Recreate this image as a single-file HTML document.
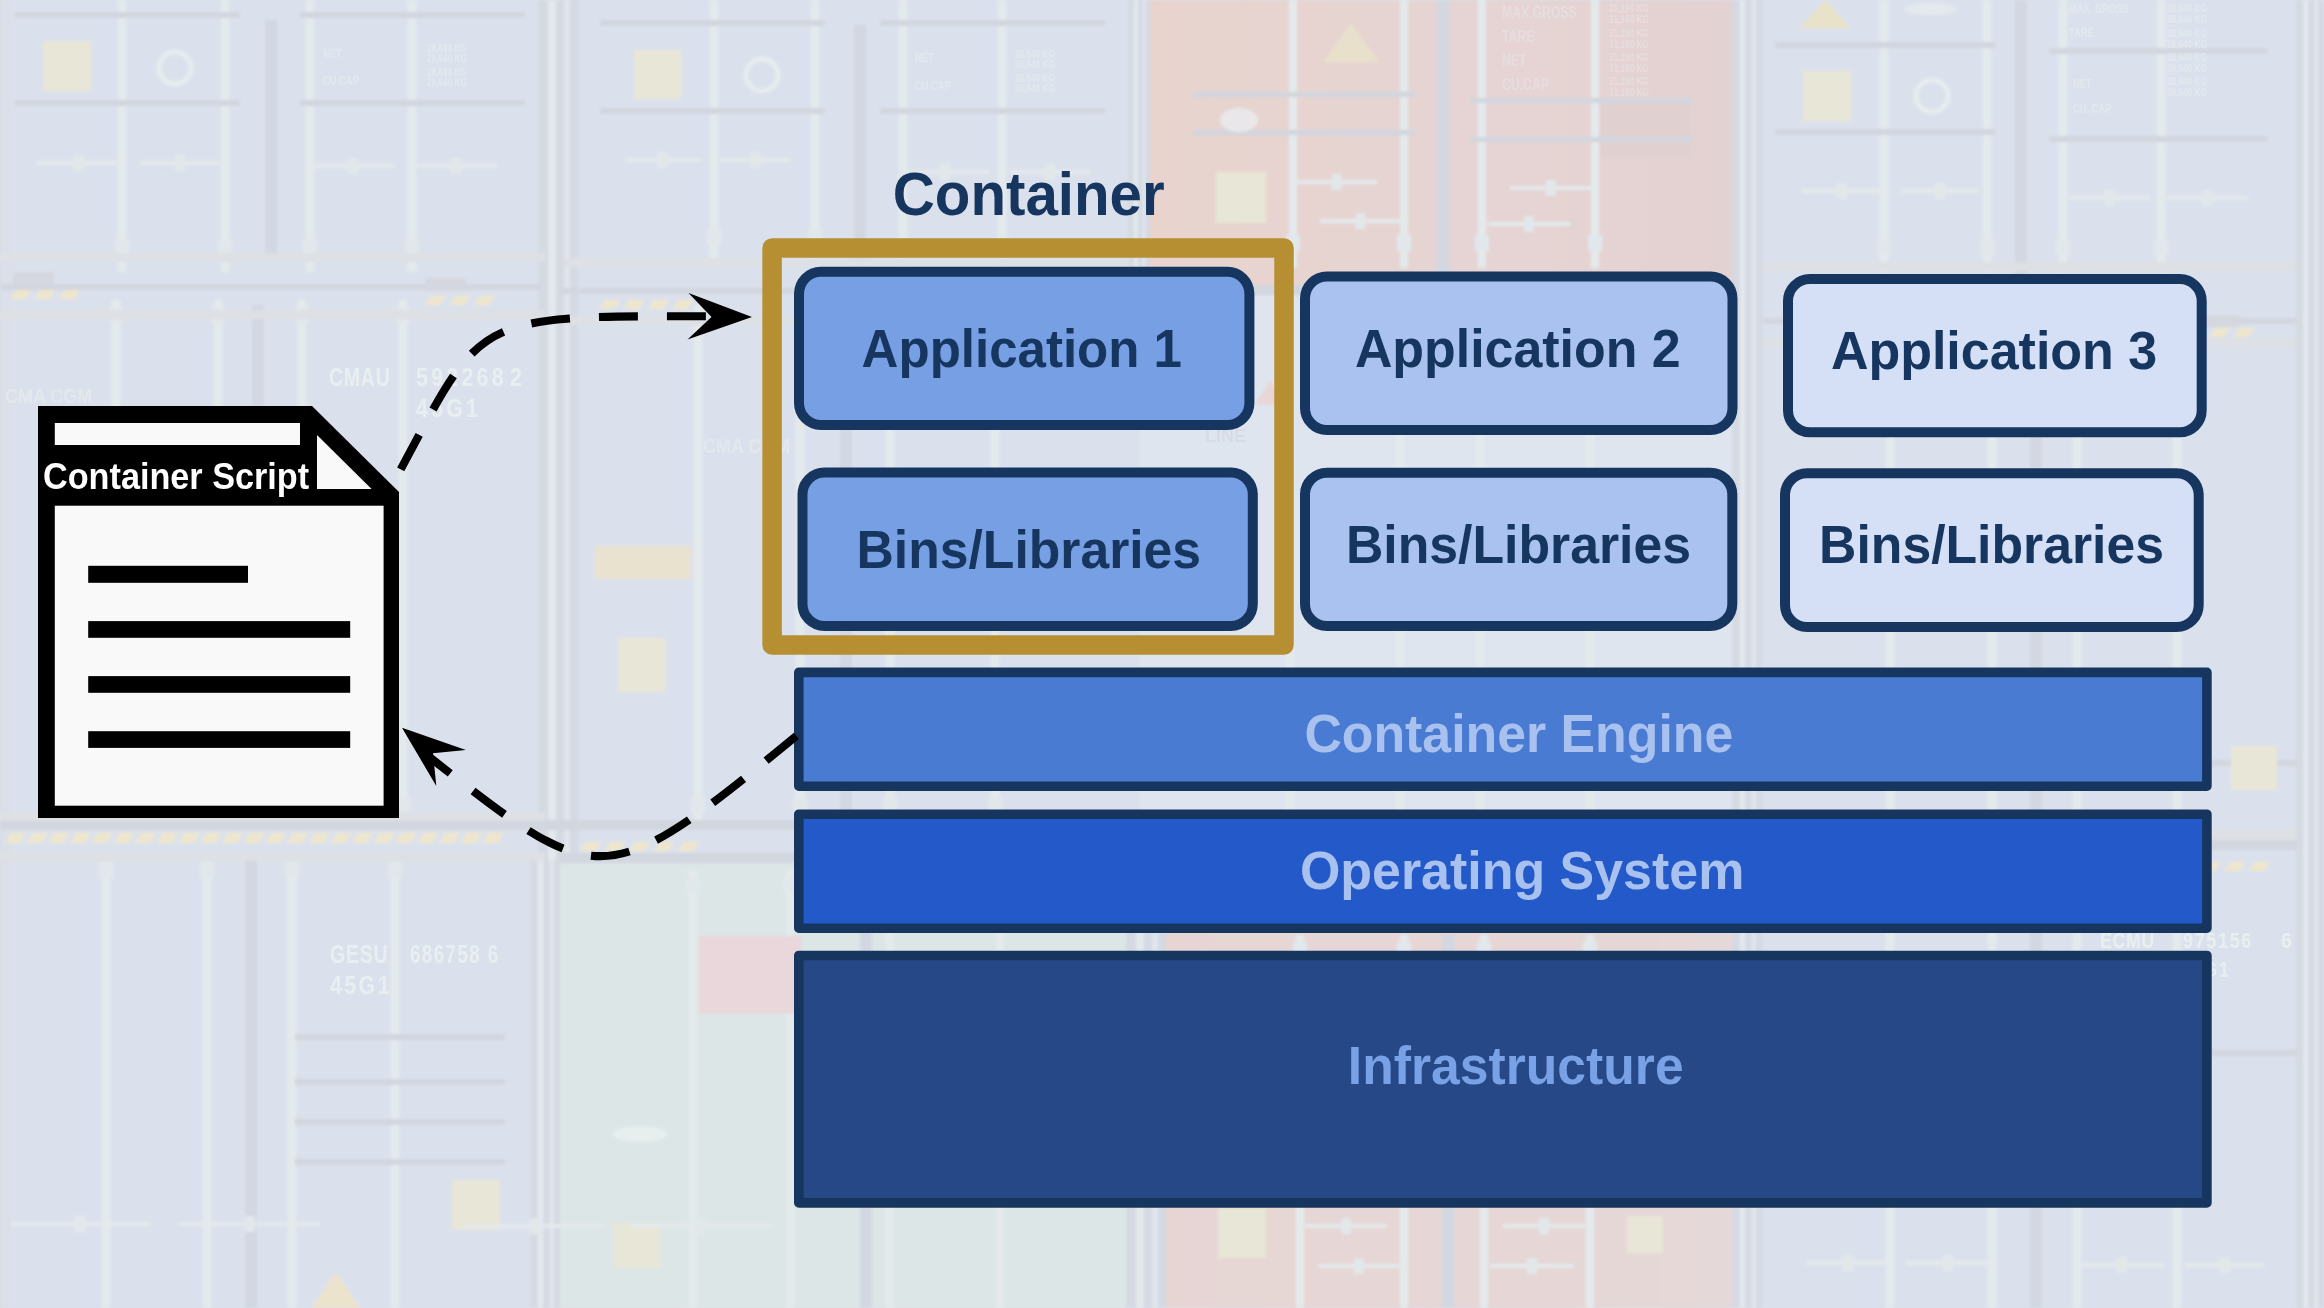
<!DOCTYPE html>
<html><head><meta charset="utf-8"><style>
html,body{margin:0;padding:0;width:2324px;height:1308px;overflow:hidden;background:#dce2ed}
svg{display:block;position:absolute;left:0;top:0}
.tx{will-change:transform}
text{font-family:"Liberation Sans",sans-serif;font-weight:bold}
</style></head><body>
<svg width="2324" height="1308" viewBox="0 0 2324 1308">
<defs><filter id="bgblur" x="0" y="0" width="1" height="1"><feGaussianBlur stdDeviation="1.5"/></filter><filter id="txblur" x="0" y="0" width="1" height="1"><feGaussianBlur stdDeviation="0.7"/></filter></defs>
<defs><linearGradient id="redg" x1="0" x2="1" y1="0" y2="0"><stop offset="0" stop-color="#e8d3cd"/><stop offset="0.5" stop-color="#e5d4d3"/><stop offset="1" stop-color="#e3d2d2"/></linearGradient><linearGradient id="redg2" x1="0" x2="1" y1="0" y2="0"><stop offset="0" stop-color="#e6d5d3"/><stop offset="1" stop-color="#e5d8d8"/></linearGradient></defs><g filter="url(#bgblur)"><rect x="0" y="0" width="2324" height="1308" fill="#dbe1ec"/>
<rect x="1150" y="0" width="584" height="292" fill="url(#redg)"/>
<rect x="1140" y="292" width="610" height="641" fill="#dfe5ee"/>
<rect x="1166" y="930" width="568" height="378" fill="url(#redg2)"/>
<rect x="560" y="862" width="568" height="446" fill="#dce6e7"/>
<rect x="1600" y="99" width="90" height="58" fill="#e0d0d0"/>
<rect x="0" y="0" width="10" height="1308" fill="#d4d9e2"/>
<rect x="2.5" y="0" width="2" height="1308" fill="#e3e8ed"/>
<rect x="6.5" y="0" width="2" height="1308" fill="#e1e6eb"/>
<rect x="538" y="0" width="40" height="860" fill="#d4d9e2"/>
<rect x="548.0" y="0" width="8.0" height="860" fill="#e3e8ed"/>
<rect x="564.0" y="0" width="6.0" height="860" fill="#e1e6eb"/>
<rect x="530" y="860" width="30" height="448" fill="#d4d9e2"/>
<rect x="537.5" y="860" width="6.0" height="448" fill="#e3e8ed"/>
<rect x="549.5" y="860" width="4.5" height="448" fill="#e1e6eb"/>
<rect x="1128" y="0" width="22" height="292" fill="#d4d9e2"/>
<rect x="1133.5" y="0" width="4.4" height="292" fill="#e3e8ed"/>
<rect x="1142.3" y="0" width="3.3" height="292" fill="#e1e6eb"/>
<rect x="1126" y="930" width="40" height="378" fill="#d4d9e2"/>
<rect x="1136.0" y="930" width="8.0" height="378" fill="#e3e8ed"/>
<rect x="1152.0" y="930" width="6.0" height="378" fill="#e1e6eb"/>
<rect x="1732" y="0" width="30" height="1308" fill="#d4d9e2"/>
<rect x="1739.5" y="0" width="6.0" height="1308" fill="#e3e8ed"/>
<rect x="1751.5" y="0" width="4.5" height="1308" fill="#e1e6eb"/>
<rect x="2296" y="0" width="28" height="1308" fill="#d4d9e2"/>
<rect x="2303.0" y="0" width="5.6000000000000005" height="1308" fill="#e3e8ed"/>
<rect x="2314.2" y="0" width="4.2" height="1308" fill="#e1e6eb"/>
<rect x="265" y="20" width="12" height="242" fill="#d2d7e1"/>
<rect x="854" y="25" width="12" height="243" fill="#d2d7e1"/>
<rect x="1437" y="0" width="12" height="290" fill="#d2d7e1"/>
<rect x="2015" y="0" width="12" height="290" fill="#d2d7e1"/>
<rect x="252" y="305" width="12" height="525" fill="#d2d7e1"/>
<rect x="840" y="305" width="12" height="525" fill="#d2d7e1"/>
<rect x="245" y="860" width="12" height="448" fill="#d2d7e1"/>
<rect x="2030" y="330" width="12" height="978" fill="#d2d7e1"/>
<rect x="1442" y="935" width="12" height="373" fill="#d2d7e1"/>
<rect x="860" y="880" width="12" height="428" fill="#d2d7e1"/>
<rect x="118" y="0" width="8" height="272" fill="#e4eaec"/>
<rect x="115" y="239" width="14" height="16" fill="#e2e7eb"/>
<rect x="221" y="0" width="8" height="272" fill="#e4eaec"/>
<rect x="218" y="239" width="14" height="16" fill="#e2e7eb"/>
<rect x="306" y="0" width="8" height="272" fill="#e4eaec"/>
<rect x="303" y="239" width="14" height="16" fill="#e2e7eb"/>
<rect x="408" y="0" width="8" height="272" fill="#e4eaec"/>
<rect x="405" y="239" width="14" height="16" fill="#e2e7eb"/>
<rect x="710" y="0" width="8" height="262" fill="#e4eaec"/>
<rect x="707" y="229" width="14" height="16" fill="#e2e7eb"/>
<rect x="811" y="0" width="8" height="262" fill="#e4eaec"/>
<rect x="808" y="229" width="14" height="16" fill="#e2e7eb"/>
<rect x="899" y="0" width="8" height="270" fill="#e4eaec"/>
<rect x="896" y="237" width="14" height="16" fill="#e2e7eb"/>
<rect x="998" y="0" width="8" height="270" fill="#e4eaec"/>
<rect x="995" y="237" width="14" height="16" fill="#e2e7eb"/>
<rect x="1289" y="0" width="8" height="268" fill="#e4eaec"/>
<rect x="1286" y="235" width="14" height="16" fill="#e2e7eb"/>
<rect x="1400" y="0" width="8" height="268" fill="#e4eaec"/>
<rect x="1397" y="235" width="14" height="16" fill="#e2e7eb"/>
<rect x="1478" y="0" width="8" height="268" fill="#e4eaec"/>
<rect x="1475" y="235" width="14" height="16" fill="#e2e7eb"/>
<rect x="1591" y="0" width="8" height="268" fill="#e4eaec"/>
<rect x="1588" y="235" width="14" height="16" fill="#e2e7eb"/>
<rect x="1880" y="0" width="8" height="272" fill="#e4eaec"/>
<rect x="1877" y="239" width="14" height="16" fill="#e2e7eb"/>
<rect x="1983" y="0" width="8" height="272" fill="#e4eaec"/>
<rect x="1980" y="239" width="14" height="16" fill="#e2e7eb"/>
<rect x="2059" y="0" width="8" height="272" fill="#e4eaec"/>
<rect x="2056" y="239" width="14" height="16" fill="#e2e7eb"/>
<rect x="2157" y="0" width="8" height="272" fill="#e4eaec"/>
<rect x="2154" y="239" width="14" height="16" fill="#e2e7eb"/>
<rect x="112" y="300" width="8" height="530" fill="#e4eaec"/>
<rect x="109" y="307" width="14" height="16" fill="#e2e7eb"/>
<rect x="109" y="797" width="14" height="16" fill="#e2e7eb"/>
<rect x="214" y="300" width="8" height="530" fill="#e4eaec"/>
<rect x="211" y="307" width="14" height="16" fill="#e2e7eb"/>
<rect x="211" y="797" width="14" height="16" fill="#e2e7eb"/>
<rect x="298" y="300" width="8" height="530" fill="#e4eaec"/>
<rect x="295" y="307" width="14" height="16" fill="#e2e7eb"/>
<rect x="295" y="797" width="14" height="16" fill="#e2e7eb"/>
<rect x="399" y="300" width="8" height="530" fill="#e4eaec"/>
<rect x="396" y="307" width="14" height="16" fill="#e2e7eb"/>
<rect x="396" y="797" width="14" height="16" fill="#e2e7eb"/>
<rect x="694" y="305" width="8" height="525" fill="#e4eaec"/>
<rect x="691" y="312" width="14" height="16" fill="#e2e7eb"/>
<rect x="691" y="797" width="14" height="16" fill="#e2e7eb"/>
<rect x="796" y="305" width="8" height="525" fill="#e4eaec"/>
<rect x="793" y="312" width="14" height="16" fill="#e2e7eb"/>
<rect x="793" y="797" width="14" height="16" fill="#e2e7eb"/>
<rect x="886" y="305" width="8" height="525" fill="#e4eaec"/>
<rect x="883" y="312" width="14" height="16" fill="#e2e7eb"/>
<rect x="883" y="797" width="14" height="16" fill="#e2e7eb"/>
<rect x="991" y="305" width="8" height="525" fill="#e4eaec"/>
<rect x="988" y="312" width="14" height="16" fill="#e2e7eb"/>
<rect x="988" y="797" width="14" height="16" fill="#e2e7eb"/>
<rect x="1286" y="300" width="8" height="630" fill="#e4eaec"/>
<rect x="1283" y="307" width="14" height="16" fill="#e2e7eb"/>
<rect x="1283" y="897" width="14" height="16" fill="#e2e7eb"/>
<rect x="1396" y="300" width="8" height="630" fill="#e4eaec"/>
<rect x="1393" y="307" width="14" height="16" fill="#e2e7eb"/>
<rect x="1393" y="897" width="14" height="16" fill="#e2e7eb"/>
<rect x="1476" y="300" width="8" height="630" fill="#e4eaec"/>
<rect x="1473" y="307" width="14" height="16" fill="#e2e7eb"/>
<rect x="1473" y="897" width="14" height="16" fill="#e2e7eb"/>
<rect x="1586" y="300" width="8" height="630" fill="#e4eaec"/>
<rect x="1583" y="307" width="14" height="16" fill="#e2e7eb"/>
<rect x="1583" y="897" width="14" height="16" fill="#e2e7eb"/>
<rect x="1886" y="335" width="8" height="973" fill="#e4eaec"/>
<rect x="1883" y="342" width="14" height="16" fill="#e2e7eb"/>
<rect x="1988" y="335" width="8" height="973" fill="#e4eaec"/>
<rect x="1985" y="342" width="14" height="16" fill="#e2e7eb"/>
<rect x="2073" y="335" width="8" height="973" fill="#e4eaec"/>
<rect x="2070" y="342" width="14" height="16" fill="#e2e7eb"/>
<rect x="2173" y="335" width="8" height="973" fill="#e4eaec"/>
<rect x="2170" y="342" width="14" height="16" fill="#e2e7eb"/>
<rect x="102" y="855" width="8" height="453" fill="#e4eaec"/>
<rect x="99" y="862" width="14" height="16" fill="#e2e7eb"/>
<rect x="203" y="855" width="8" height="453" fill="#e4eaec"/>
<rect x="200" y="862" width="14" height="16" fill="#e2e7eb"/>
<rect x="288" y="855" width="8" height="453" fill="#e4eaec"/>
<rect x="285" y="862" width="14" height="16" fill="#e2e7eb"/>
<rect x="391" y="855" width="8" height="453" fill="#e4eaec"/>
<rect x="388" y="862" width="14" height="16" fill="#e2e7eb"/>
<rect x="689" y="870" width="8" height="438" fill="#e4eaec"/>
<rect x="686" y="877" width="14" height="16" fill="#e2e7eb"/>
<rect x="786" y="870" width="8" height="438" fill="#e4eaec"/>
<rect x="783" y="877" width="14" height="16" fill="#e2e7eb"/>
<rect x="886" y="870" width="8" height="438" fill="#e4eaec"/>
<rect x="883" y="877" width="14" height="16" fill="#e2e7eb"/>
<rect x="996" y="870" width="8" height="438" fill="#e4eaec"/>
<rect x="993" y="877" width="14" height="16" fill="#e2e7eb"/>
<rect x="1296" y="935" width="8" height="373" fill="#e4eaec"/>
<rect x="1293" y="942" width="14" height="16" fill="#e2e7eb"/>
<rect x="1400" y="935" width="8" height="373" fill="#e4eaec"/>
<rect x="1397" y="942" width="14" height="16" fill="#e2e7eb"/>
<rect x="1480" y="935" width="8" height="373" fill="#e4eaec"/>
<rect x="1477" y="942" width="14" height="16" fill="#e2e7eb"/>
<rect x="1586" y="935" width="8" height="373" fill="#e4eaec"/>
<rect x="1583" y="942" width="14" height="16" fill="#e2e7eb"/>
<rect x="15" y="12" width="225" height="6" fill="#d1d6df"/>
<rect x="300" y="12" width="225" height="6" fill="#d1d6df"/>
<rect x="15" y="100" width="225" height="6" fill="#d1d6df"/>
<rect x="300" y="100" width="225" height="6" fill="#d1d6df"/>
<rect x="0" y="284" width="540" height="6" fill="#d1d6df"/>
<rect x="600" y="20" width="225" height="6" fill="#d1d6df"/>
<rect x="880" y="20" width="225" height="6" fill="#d1d6df"/>
<rect x="600" y="108" width="225" height="6" fill="#d1d6df"/>
<rect x="880" y="108" width="225" height="6" fill="#d1d6df"/>
<rect x="560" y="288" width="570" height="6" fill="#d1d6df"/>
<rect x="1193" y="92" width="223" height="5" fill="#d1d6df"/>
<rect x="1193" y="130" width="223" height="5" fill="#d1d6df"/>
<rect x="1470" y="98" width="222" height="5" fill="#d1d6df"/>
<rect x="1470" y="137" width="222" height="5" fill="#d1d6df"/>
<rect x="1150" y="285" width="584" height="10" fill="#d1d6df"/>
<rect x="1775" y="42" width="221" height="6" fill="#d1d6df"/>
<rect x="2049" y="48" width="219" height="6" fill="#d1d6df"/>
<rect x="1775" y="129" width="221" height="6" fill="#d1d6df"/>
<rect x="2049" y="136" width="219" height="6" fill="#d1d6df"/>
<rect x="1762" y="318" width="534" height="6" fill="#d1d6df"/>
<rect x="0" y="820" width="1128" height="10" fill="#d1d6df"/>
<rect x="560" y="853" width="568" height="10" fill="#d1d6df"/>
<rect x="295" y="1034" width="210" height="6" fill="#d1d6df"/>
<rect x="295" y="1079" width="210" height="6" fill="#d1d6df"/>
<rect x="295" y="1119" width="210" height="6" fill="#d1d6df"/>
<rect x="295" y="1159" width="210" height="6" fill="#d1d6df"/>
<rect x="1762" y="760" width="534" height="6" fill="#d1d6df"/>
<rect x="1762" y="840" width="534" height="10" fill="#d1d6df"/>
<rect x="1762" y="1050" width="534" height="6" fill="#d1d6df"/>
<rect x="1166" y="1195" width="566" height="5" fill="#d1d6df"/>
<rect x="0" y="253" width="545" height="9" fill="#dde0e4"/>
<rect x="0" y="310" width="545" height="9" fill="#dde0e4"/>
<rect x="565" y="258" width="565" height="9" fill="#dde0e4"/>
<rect x="565" y="316" width="565" height="9" fill="#dde0e4"/>
<rect x="1762" y="262" width="534" height="9" fill="#dde0e4"/>
<rect x="1762" y="338" width="534" height="9" fill="#dde0e4"/>
<rect x="0" y="812" width="545" height="9" fill="#dde0e4"/>
<rect x="0" y="852" width="545" height="9" fill="#dde0e4"/>
<rect x="1762" y="830" width="534" height="9" fill="#dde0e4"/>
<path d="M10,299 L16,290 L31,290 L25,299 Z" fill="#eee6cc"/>
<path d="M34.5,299 L40.5,290 L55.5,290 L49.5,299 Z" fill="#eee6cc"/>
<path d="M59.0,299 L65.0,290 L80.0,290 L74.0,299 Z" fill="#eee6cc"/>
<path d="M425,305 L431,296 L446,296 L440,305 Z" fill="#eee6cc"/>
<path d="M449.5,305 L455.5,296 L470.5,296 L464.5,305 Z" fill="#eee6cc"/>
<path d="M474.0,305 L480.0,296 L495.0,296 L489.0,305 Z" fill="#eee6cc"/>
<path d="M599,309 L605,300 L620,300 L614,309 Z" fill="#eee6cc"/>
<path d="M623.5,309 L629.5,300 L644.5,300 L638.5,309 Z" fill="#eee6cc"/>
<path d="M648.0,309 L654.0,300 L669.0,300 L663.0,309 Z" fill="#eee6cc"/>
<path d="M672.5,309 L678.5,300 L693.5,300 L687.5,309 Z" fill="#eee6cc"/>
<path d="M2209,337 L2215,328 L2230,328 L2224,337 Z" fill="#eee6cc"/>
<path d="M2233.5,337 L2239.5,328 L2254.5,328 L2248.5,337 Z" fill="#eee6cc"/>
<path d="M5,843 L11,833 L26,833 L20,843 Z" fill="#eee6cc"/>
<path d="M26.7,843 L32.7,833 L47.7,833 L41.7,843 Z" fill="#eee6cc"/>
<path d="M48.4,843 L54.4,833 L69.4,833 L63.4,843 Z" fill="#eee6cc"/>
<path d="M70.1,843 L76.1,833 L91.1,833 L85.1,843 Z" fill="#eee6cc"/>
<path d="M91.8,843 L97.8,833 L112.8,833 L106.8,843 Z" fill="#eee6cc"/>
<path d="M113.5,843 L119.5,833 L134.5,833 L128.5,843 Z" fill="#eee6cc"/>
<path d="M135.2,843 L141.2,833 L156.2,833 L150.2,843 Z" fill="#eee6cc"/>
<path d="M156.89999999999998,843 L162.89999999999998,833 L177.89999999999998,833 L171.89999999999998,843 Z" fill="#eee6cc"/>
<path d="M178.59999999999997,843 L184.59999999999997,833 L199.59999999999997,833 L193.59999999999997,843 Z" fill="#eee6cc"/>
<path d="M200.29999999999995,843 L206.29999999999995,833 L221.29999999999995,833 L215.29999999999995,843 Z" fill="#eee6cc"/>
<path d="M221.99999999999994,843 L227.99999999999994,833 L242.99999999999994,833 L236.99999999999994,843 Z" fill="#eee6cc"/>
<path d="M243.69999999999993,843 L249.69999999999993,833 L264.69999999999993,833 L258.69999999999993,843 Z" fill="#eee6cc"/>
<path d="M265.3999999999999,843 L271.3999999999999,833 L286.3999999999999,833 L280.3999999999999,843 Z" fill="#eee6cc"/>
<path d="M287.0999999999999,843 L293.0999999999999,833 L308.0999999999999,833 L302.0999999999999,843 Z" fill="#eee6cc"/>
<path d="M308.7999999999999,843 L314.7999999999999,833 L329.7999999999999,833 L323.7999999999999,843 Z" fill="#eee6cc"/>
<path d="M330.4999999999999,843 L336.4999999999999,833 L351.4999999999999,833 L345.4999999999999,843 Z" fill="#eee6cc"/>
<path d="M352.1999999999999,843 L358.1999999999999,833 L373.1999999999999,833 L367.1999999999999,843 Z" fill="#eee6cc"/>
<path d="M373.89999999999986,843 L379.89999999999986,833 L394.89999999999986,833 L388.89999999999986,843 Z" fill="#eee6cc"/>
<path d="M395.59999999999985,843 L401.59999999999985,833 L416.59999999999985,833 L410.59999999999985,843 Z" fill="#eee6cc"/>
<path d="M417.29999999999984,843 L423.29999999999984,833 L438.29999999999984,833 L432.29999999999984,843 Z" fill="#eee6cc"/>
<path d="M438.99999999999983,843 L444.99999999999983,833 L459.99999999999983,833 L453.99999999999983,843 Z" fill="#eee6cc"/>
<path d="M460.6999999999998,843 L466.6999999999998,833 L481.6999999999998,833 L475.6999999999998,843 Z" fill="#eee6cc"/>
<path d="M482.3999999999998,843 L488.3999999999998,833 L503.3999999999998,833 L497.3999999999998,843 Z" fill="#eee6cc"/>
<path d="M2200,871 L2206,862 L2221,862 L2215,871 Z" fill="#eee6cc"/>
<path d="M2224.5,871 L2230.5,862 L2245.5,862 L2239.5,871 Z" fill="#eee6cc"/>
<path d="M2249.0,871 L2255.0,862 L2270.0,862 L2264.0,871 Z" fill="#eee6cc"/>
<path d="M580,851 L586,842 L601,842 L595,851 Z" fill="#eee6cc"/>
<path d="M604.5,851 L610.5,842 L625.5,842 L619.5,851 Z" fill="#eee6cc"/>
<path d="M629.0,851 L635.0,842 L650.0,842 L644.0,851 Z" fill="#eee6cc"/>
<path d="M653.5,851 L659.5,842 L674.5,842 L668.5,851 Z" fill="#eee6cc"/>
<path d="M678.0,851 L684.0,842 L699.0,842 L693.0,851 Z" fill="#eee6cc"/>
<rect x="13" y="272" width="41" height="13" fill="#d4d7df"/>
<rect x="425" y="278" width="41" height="13" fill="#d4d7df"/>
<rect x="2200" y="315" width="40" height="12" fill="#d4d7df"/>
<rect x="43" y="41" width="48" height="50" fill="#e7e6d7"/>
<rect x="634" y="50" width="47" height="49" fill="#e7e6d7"/>
<rect x="1803" y="71" width="48" height="50" fill="#e7e6d7"/>
<rect x="1216" y="172" width="50" height="51" fill="#e7e6d7"/>
<rect x="618" y="638" width="47" height="54" fill="#e7e6d7"/>
<rect x="2231" y="746" width="46" height="44" fill="#e7e6d7"/>
<rect x="452" y="1180" width="48" height="50" fill="#e7e6d7"/>
<rect x="613" y="1223" width="48" height="45" fill="#e7e6d7"/>
<rect x="1218" y="1208" width="48" height="50" fill="#e7e6d7"/>
<rect x="1627" y="1216" width="36" height="37" fill="#e7e6d7"/>
<circle cx="175" cy="68" r="16" fill="none" stroke="#e7ecef" stroke-width="5"/>
<circle cx="762" cy="75" r="16" fill="none" stroke="#e7ecef" stroke-width="5"/>
<circle cx="1932" cy="96" r="16" fill="none" stroke="#e7ecef" stroke-width="5"/>
<ellipse cx="1239" cy="120" rx="19" ry="12" fill="#e9e7ea"/>
<ellipse cx="1930" cy="9" rx="26" ry="6" fill="#e4e9ee"/>
<ellipse cx="640" cy="1134" rx="27" ry="8" fill="#e6eeee"/>
<rect x="595" y="546" width="96" height="33" fill="#e9e2cf"/>
<path d="M1800,28 L1825,0 L1851,28 Z" fill="#e8e2c8"/>
<path d="M1323,62 L1351,23 L1379,62 Z" fill="#e9e0cc"/>
<path d="M312,1308 L336,1272 L360,1308 Z" fill="#ece3cc"/>
<rect x="699" y="936" width="102" height="78" fill="#e9d7dc"/>
<path d="M1255,405 L1270,380 L1285,405 Z" fill="#e9d6d6"/>
<rect x="37" y="161" width="83" height="4" fill="#e4e9ec"/>
<rect x="73.5" y="155" width="10" height="16" fill="#e2e7ea"/>
<rect x="140" y="161" width="80" height="4" fill="#e4e9ec"/>
<rect x="175.0" y="155" width="10" height="16" fill="#e2e7ea"/>
<rect x="310" y="164" width="85" height="4" fill="#e4e9ec"/>
<rect x="347.5" y="158" width="10" height="16" fill="#e2e7ea"/>
<rect x="415" y="164" width="82" height="4" fill="#e4e9ec"/>
<rect x="451.0" y="158" width="10" height="16" fill="#e2e7ea"/>
<rect x="625" y="158" width="75" height="4" fill="#e4e9ec"/>
<rect x="657.5" y="152" width="10" height="16" fill="#e2e7ea"/>
<rect x="720" y="158" width="70" height="4" fill="#e4e9ec"/>
<rect x="750.0" y="152" width="10" height="16" fill="#e2e7ea"/>
<rect x="900" y="170" width="90" height="4" fill="#e4e9ec"/>
<rect x="940.0" y="164" width="10" height="16" fill="#e2e7ea"/>
<rect x="1010" y="170" width="80" height="4" fill="#e4e9ec"/>
<rect x="1045.0" y="164" width="10" height="16" fill="#e2e7ea"/>
<rect x="1296" y="180" width="81" height="4" fill="#e4e9ec"/>
<rect x="1331.5" y="174" width="10" height="16" fill="#e2e7ea"/>
<rect x="1320" y="219" width="81" height="4" fill="#e4e9ec"/>
<rect x="1355.5" y="213" width="10" height="16" fill="#e2e7ea"/>
<rect x="1510" y="186" width="81" height="4" fill="#e4e9ec"/>
<rect x="1545.5" y="180" width="10" height="16" fill="#e2e7ea"/>
<rect x="1488" y="222" width="82" height="4" fill="#e4e9ec"/>
<rect x="1524.0" y="216" width="10" height="16" fill="#e2e7ea"/>
<rect x="1802" y="189" width="79" height="4" fill="#e4e9ec"/>
<rect x="1836.5" y="183" width="10" height="16" fill="#e2e7ea"/>
<rect x="1901" y="189" width="78" height="4" fill="#e4e9ec"/>
<rect x="1935.0" y="183" width="10" height="16" fill="#e2e7ea"/>
<rect x="2069" y="196" width="81" height="4" fill="#e4e9ec"/>
<rect x="2104.5" y="190" width="10" height="16" fill="#e2e7ea"/>
<rect x="2167" y="196" width="81" height="4" fill="#e4e9ec"/>
<rect x="2202.5" y="190" width="10" height="16" fill="#e2e7ea"/>
<rect x="10" y="1222" width="140" height="4" fill="#e4e9ec"/>
<rect x="75.0" y="1216" width="10" height="16" fill="#e2e7ea"/>
<rect x="180" y="1222" width="140" height="4" fill="#e4e9ec"/>
<rect x="245.0" y="1216" width="10" height="16" fill="#e2e7ea"/>
<rect x="465" y="1224" width="140" height="4" fill="#e4e9ec"/>
<rect x="530.0" y="1218" width="10" height="16" fill="#e2e7ea"/>
<rect x="630" y="1224" width="140" height="4" fill="#e4e9ec"/>
<rect x="695.0" y="1218" width="10" height="16" fill="#e2e7ea"/>
<rect x="1305" y="1224" width="82" height="4" fill="#e4e9ec"/>
<rect x="1341.0" y="1218" width="10" height="16" fill="#e2e7ea"/>
<rect x="1318" y="1264" width="82" height="4" fill="#e4e9ec"/>
<rect x="1354.0" y="1258" width="10" height="16" fill="#e2e7ea"/>
<rect x="1503" y="1224" width="82" height="4" fill="#e4e9ec"/>
<rect x="1539.0" y="1218" width="10" height="16" fill="#e2e7ea"/>
<rect x="1490" y="1264" width="84" height="4" fill="#e4e9ec"/>
<rect x="1527.0" y="1258" width="10" height="16" fill="#e2e7ea"/>
<rect x="1806" y="1261" width="84" height="4" fill="#e4e9ec"/>
<rect x="1843.0" y="1255" width="10" height="16" fill="#e2e7ea"/>
<rect x="1906" y="1261" width="84" height="4" fill="#e4e9ec"/>
<rect x="1943.0" y="1255" width="10" height="16" fill="#e2e7ea"/>
<rect x="2079" y="1263" width="85" height="4" fill="#e4e9ec"/>
<rect x="2116.5" y="1257" width="10" height="16" fill="#e2e7ea"/>
<rect x="2185" y="1263" width="79" height="4" fill="#e4e9ec"/>
<rect x="2219.5" y="1257" width="10" height="16" fill="#e2e7ea"/></g><g filter="url(#txblur)"><text transform="translate(1200,422) scale(1.0,1)" font-size="22" fill="#d6dbe6" font-family="Liberation Sans" font-weight="bold" letter-spacing="0">NC</text>
<text transform="translate(1205,442) scale(1.0,1)" font-size="18" fill="#d6dbe6" font-family="Liberation Sans" font-weight="bold" letter-spacing="0">LINE</text>
<text transform="translate(329,386) scale(0.75,1)" font-size="26" fill="#e9eff1" font-family="Liberation Sans" font-weight="normal" letter-spacing="1">CMAU</text>
<text transform="translate(416,386) scale(0.82,1)" font-size="26" fill="#e9eff1" font-family="Liberation Sans" font-weight="normal" letter-spacing="4">592268</text>
<text transform="translate(510,386) scale(0.82,1)" font-size="26" fill="#e9eff1" font-family="Liberation Sans" font-weight="normal" letter-spacing="0">2</text>
<text transform="translate(416,417) scale(0.82,1)" font-size="26" fill="#e9eff1" font-family="Liberation Sans" font-weight="normal" letter-spacing="4">45G1</text>
<text transform="translate(330,963) scale(0.75,1)" font-size="26" fill="#e9eff1" font-family="Liberation Sans" font-weight="normal" letter-spacing="1">GESU</text>
<text transform="translate(410,963) scale(0.72,1)" font-size="26" fill="#e9eff1" font-family="Liberation Sans" font-weight="normal" letter-spacing="2">686758 6</text>
<text transform="translate(330,994) scale(0.82,1)" font-size="26" fill="#e9eff1" font-family="Liberation Sans" font-weight="normal" letter-spacing="3">45G1</text>
<text transform="translate(2100,948) scale(0.8,1)" font-size="22" fill="#e9eff1" font-family="Liberation Sans" font-weight="normal" letter-spacing="1">ECMU</text>
<text transform="translate(2183,948) scale(0.82,1)" font-size="22" fill="#e9eff1" font-family="Liberation Sans" font-weight="normal" letter-spacing="2">975156</text>
<text transform="translate(2281,948) scale(0.9,1)" font-size="22" fill="#e9eff1" font-family="Liberation Sans" font-weight="normal" letter-spacing="0">6</text>
<text transform="translate(2180,977) scale(0.82,1)" font-size="22" fill="#e9eff1" font-family="Liberation Sans" font-weight="normal" letter-spacing="2">45G1</text>
<text transform="translate(5,403) scale(0.9,1)" font-size="20" fill="#e3e8ee" font-family="Liberation Sans" font-weight="bold" letter-spacing="0">CMA CGM</text>
<text transform="translate(703,453) scale(0.9,1)" font-size="20" fill="#e3e8ee" font-family="Liberation Sans" font-weight="bold" letter-spacing="0">CMA CGM</text>
<text transform="translate(1502,18) scale(0.72,1)" font-size="17" fill="#e7ddde" font-family="Liberation Sans" font-weight="normal" letter-spacing="0">MAX.GROSS</text>
<text transform="translate(1502,42) scale(0.72,1)" font-size="17" fill="#e7ddde" font-family="Liberation Sans" font-weight="normal" letter-spacing="0">TARE</text>
<text transform="translate(1502,66) scale(0.72,1)" font-size="17" fill="#e7ddde" font-family="Liberation Sans" font-weight="normal" letter-spacing="0">NET</text>
<text transform="translate(1502,90) scale(0.72,1)" font-size="17" fill="#e7ddde" font-family="Liberation Sans" font-weight="normal" letter-spacing="0">CU.CAP</text>
<text transform="translate(1609,12) scale(0.75,1)" font-size="11" fill="#e7ddde" font-family="Liberation Sans" font-weight="normal" letter-spacing="0">31,190 KG</text>
<text transform="translate(1609,23) scale(0.75,1)" font-size="11" fill="#e7ddde" font-family="Liberation Sans" font-weight="normal" letter-spacing="0">31,190 KG</text>
<text transform="translate(1609,37) scale(0.75,1)" font-size="11" fill="#e7ddde" font-family="Liberation Sans" font-weight="normal" letter-spacing="0">31,190 KG</text>
<text transform="translate(1609,48) scale(0.75,1)" font-size="11" fill="#e7ddde" font-family="Liberation Sans" font-weight="normal" letter-spacing="0">31,190 KG</text>
<text transform="translate(1609,61) scale(0.75,1)" font-size="11" fill="#e7ddde" font-family="Liberation Sans" font-weight="normal" letter-spacing="0">31,190 KG</text>
<text transform="translate(1609,72) scale(0.75,1)" font-size="11" fill="#e7ddde" font-family="Liberation Sans" font-weight="normal" letter-spacing="0">31,190 KG</text>
<text transform="translate(1609,85) scale(0.75,1)" font-size="11" fill="#e7ddde" font-family="Liberation Sans" font-weight="normal" letter-spacing="0">31,190 KG</text>
<text transform="translate(1609,96) scale(0.75,1)" font-size="11" fill="#e7ddde" font-family="Liberation Sans" font-weight="normal" letter-spacing="0">31,190 KG</text>
<text transform="translate(427,52) scale(0.75,1)" font-size="11" fill="#e3e8ee" font-family="Liberation Sans" font-weight="normal" letter-spacing="0">28,640 KG</text>
<text transform="translate(427,62) scale(0.75,1)" font-size="11" fill="#e3e8ee" font-family="Liberation Sans" font-weight="normal" letter-spacing="0">28,640 KG</text>
<text transform="translate(427,76) scale(0.75,1)" font-size="11" fill="#e3e8ee" font-family="Liberation Sans" font-weight="normal" letter-spacing="0">28,640 KG</text>
<text transform="translate(427,86) scale(0.75,1)" font-size="11" fill="#e3e8ee" font-family="Liberation Sans" font-weight="normal" letter-spacing="0">28,640 KG</text>
<text transform="translate(1015,58) scale(0.75,1)" font-size="11" fill="#e3e8ee" font-family="Liberation Sans" font-weight="normal" letter-spacing="0">28,640 KG</text>
<text transform="translate(1015,68) scale(0.75,1)" font-size="11" fill="#e3e8ee" font-family="Liberation Sans" font-weight="normal" letter-spacing="0">28,640 KG</text>
<text transform="translate(1015,82) scale(0.75,1)" font-size="11" fill="#e3e8ee" font-family="Liberation Sans" font-weight="normal" letter-spacing="0">28,640 KG</text>
<text transform="translate(1015,92) scale(0.75,1)" font-size="11" fill="#e3e8ee" font-family="Liberation Sans" font-weight="normal" letter-spacing="0">28,640 KG</text>
<text transform="translate(2167,12) scale(0.75,1)" font-size="11" fill="#e3e8ee" font-family="Liberation Sans" font-weight="normal" letter-spacing="0">28,640 KG</text>
<text transform="translate(2167,23) scale(0.75,1)" font-size="11" fill="#e3e8ee" font-family="Liberation Sans" font-weight="normal" letter-spacing="0">28,640 KG</text>
<text transform="translate(2167,37) scale(0.75,1)" font-size="11" fill="#e3e8ee" font-family="Liberation Sans" font-weight="normal" letter-spacing="0">28,640 KG</text>
<text transform="translate(2167,48) scale(0.75,1)" font-size="11" fill="#e3e8ee" font-family="Liberation Sans" font-weight="normal" letter-spacing="0">28,640 KG</text>
<text transform="translate(2167,61) scale(0.75,1)" font-size="11" fill="#e3e8ee" font-family="Liberation Sans" font-weight="normal" letter-spacing="0">28,640 KG</text>
<text transform="translate(2167,72) scale(0.75,1)" font-size="11" fill="#e3e8ee" font-family="Liberation Sans" font-weight="normal" letter-spacing="0">28,640 KG</text>
<text transform="translate(2167,85) scale(0.75,1)" font-size="11" fill="#e3e8ee" font-family="Liberation Sans" font-weight="normal" letter-spacing="0">28,640 KG</text>
<text transform="translate(2167,96) scale(0.75,1)" font-size="11" fill="#e3e8ee" font-family="Liberation Sans" font-weight="normal" letter-spacing="0">28,640 KG</text>
<text transform="translate(2069,13) scale(0.72,1)" font-size="13" fill="#e3e8ee" font-family="Liberation Sans" font-weight="normal" letter-spacing="0">MAX.   GROSS</text>
<text transform="translate(2069,37) scale(0.72,1)" font-size="13" fill="#e3e8ee" font-family="Liberation Sans" font-weight="normal" letter-spacing="0">TARE</text>
<text transform="translate(2073,88) scale(0.72,1)" font-size="13" fill="#e3e8ee" font-family="Liberation Sans" font-weight="normal" letter-spacing="0">NET</text>
<text transform="translate(2073,113) scale(0.72,1)" font-size="13" fill="#e3e8ee" font-family="Liberation Sans" font-weight="normal" letter-spacing="0">CU. CAP</text>
<text transform="translate(323,58) scale(0.72,1)" font-size="13" fill="#e3e8ee" font-family="Liberation Sans" font-weight="normal" letter-spacing="0">NET</text>
<text transform="translate(323,85) scale(0.72,1)" font-size="13" fill="#e3e8ee" font-family="Liberation Sans" font-weight="normal" letter-spacing="0">CU    CAP</text>
<text transform="translate(915,62) scale(0.72,1)" font-size="13" fill="#e3e8ee" font-family="Liberation Sans" font-weight="normal" letter-spacing="0">NET</text>
<text transform="translate(915,90) scale(0.72,1)" font-size="13" fill="#e3e8ee" font-family="Liberation Sans" font-weight="normal" letter-spacing="0">CU    CAP</text></g>
<rect x="772.1" y="247.9" width="511.9" height="397.1" rx="0" fill="none" stroke="#b68f32" stroke-width="19.5" stroke-linejoin="round"/><rect x="799.0" y="271.8" width="450.4" height="153.2" rx="22" fill="#779fe4" stroke="#163660" stroke-width="10" stroke-linejoin="round"/><rect x="802.5" y="472.6" width="450.3" height="153.4" rx="22" fill="#779fe4" stroke="#163660" stroke-width="10" stroke-linejoin="round"/><rect x="1305.0" y="276.5" width="427.5" height="153.5" rx="22" fill="#a9c2ef" stroke="#163660" stroke-width="10" stroke-linejoin="round"/><rect x="1305.0" y="472.7" width="427.3" height="153.3" rx="22" fill="#a9c2ef" stroke="#163660" stroke-width="10" stroke-linejoin="round"/><rect x="1788.0" y="279.0" width="413.7" height="153.3" rx="22" fill="#d5e0f7" stroke="#163660" stroke-width="10" stroke-linejoin="round"/><rect x="1785.0" y="473.2" width="413.7" height="153.8" rx="22" fill="#d5e0f7" stroke="#163660" stroke-width="10" stroke-linejoin="round"/><rect x="798.8" y="672.4" width="1408.1" height="113.8" rx="0" fill="#4a7bd3" stroke="#163660" stroke-width="9.6" stroke-linejoin="round"/><rect x="798.8" y="814.2" width="1408.1" height="114.0" rx="0" fill="#2359c8" stroke="#163660" stroke-width="9.6" stroke-linejoin="round"/><rect x="798.8" y="955.5" width="1408.1" height="247.4" rx="0" fill="#264886" stroke="#163660" stroke-width="9.6" stroke-linejoin="round"/>
<path d="M38,406 L312,406 L399,492 L399,818 L38,818 Z" fill="#000"/>
<rect x="54.8" y="505.7" width="328.8" height="300" fill="#f9f9f9"/>
<rect x="54.8" y="423" width="245.2" height="22" fill="#f9f9f9"/>
<path d="M317,435 L317,489 L371.6,489 Z" fill="#f9f9f9"/>
<rect x="88.2" y="565.8" width="159.8" height="17" fill="#000"/>
<rect x="88.2" y="621.1" width="262" height="16.7" fill="#000"/>
<rect x="88.2" y="676.1" width="262" height="16.7" fill="#000"/>
<rect x="88.2" y="731.2" width="262" height="16.7" fill="#000"/>

<path d="M400.7,469.3 C483.9,314.3 473.2,315.9 711.2,316.3" fill="none" stroke="#000" stroke-width="8.1" stroke-dasharray="39 29"/>
<path d="M752,317 L688.5,293 L711.5,317 L687.5,339.5 Z" fill="#000"/>
<path d="M796.4,735.9 C603.9,894 600,891 430,757.5" fill="none" stroke="#000" stroke-width="8.1" stroke-dasharray="39 29"/>
<path d="M402,727.8 L465.9,750 L433,753.3 L436.3,786 Z" fill="#000"/>

</svg>
<svg class="tx" width="2324" height="1308" viewBox="0 0 2324 1308">
<text transform="translate(892.76,215.06) scale(0.9712,1.0210)" font-size="60" fill="#163660">Container</text><text transform="translate(861.62,366.80) scale(0.9815,1.0314)" font-size="52" fill="#163660">Application 1</text><text transform="translate(1354.90,366.80) scale(0.9978,1.0295)" font-size="52" fill="#163660">Application 2</text><text transform="translate(1830.90,368.90) scale(0.9997,1.0314)" font-size="52" fill="#163660">Application 3</text><text transform="translate(856.52,567.70) scale(0.9939,1.0286)" font-size="52" fill="#163660">Bins/Libraries</text><text transform="translate(1346.01,562.70) scale(0.9953,1.0286)" font-size="52" fill="#163660">Bins/Libraries</text><text transform="translate(1819.12,562.70) scale(0.9944,1.0286)" font-size="52" fill="#163660">Bins/Libraries</text><text transform="translate(1304.41,751.90) scale(0.9963,1.0342)" font-size="52" fill="#a9c1ef">Container Engine</text><text transform="translate(1299.90,889.15) scale(0.9989,1.0485)" font-size="52" fill="#a9c1ef">Operating System</text><text transform="translate(1347.87,1084.00) scale(0.9933,1.0342)" font-size="52" fill="#79a1e6">Infrastructure</text><text transform="translate(42.98,488.71) scale(0.9508,1.0232)" font-size="36" fill="#ffffff">Container Script</text>
</svg>
</body></html>
